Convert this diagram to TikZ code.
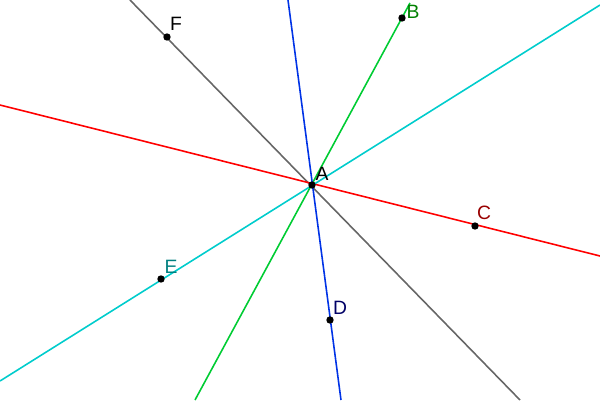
\documentclass[tikz,border=0pt]{standalone}
\usepackage{fontspec}
\setmainfont{Liberation Sans}
\definecolor{turq}{RGB}{0,204,204}
\definecolor{grn}{RGB}{0,204,51}
\definecolor{blu}{RGB}{0,51,230}
\begin{document}
\begin{tikzpicture}[x=0.02cm,y=-0.02cm,
  ln/.style={line width=0.9pt},
  pt/.style={circle,fill=black,inner sep=0pt,minimum size=4.2pt},
  lb/.style={font=\fontsize{11pt}{11pt}\selectfont,inner sep=0pt}]
\useasboundingbox (0,0) rectangle (600,400);
\coordinate (g1) at (130,0); \coordinate (g2) at (520,400);
\coordinate (b1) at (288,0); \coordinate (b2) at (341,400);
\coordinate (n1) at (195,400); \coordinate (n2) at (410,3);
\coordinate (c1) at (0,381); \coordinate (c2) at (600,5);
\coordinate (r1) at (0,105); \coordinate (r2) at (600,256);
\draw[ln,color=black!60] (g1) -- (g2);
\draw[ln,color=red] (r1) -- (r2);
\draw[ln,color=turq] (c1) -- (c2);
\draw[ln,color=grn] (n1) -- (n2);
\draw[ln,color=blu] (b1) -- (b2);
\node[pt] (A) at (312,185) {};
\node[pt] (B) at (402,18) {};
\node[pt] (C) at (475,226) {};
\node[pt] (D) at (330,320) {};
\node[pt] (E) at (161,279) {};
\node[pt] (F) at (167,37) {};
\node[lb] (lA) at (322,174) {A};
\node[lb,color=green!50!black] (lB) at (413,12) {B};
\node[lb,color=red!60!black] (lC) at (484,213) {C};
\node[lb,color=blue!40!black] (lD) at (340,308) {D};
\node[lb,color=teal] (lE) at (171,267) {E};
\node[lb] (lF) at (176,24) {F};
\end{tikzpicture}
\end{document}
